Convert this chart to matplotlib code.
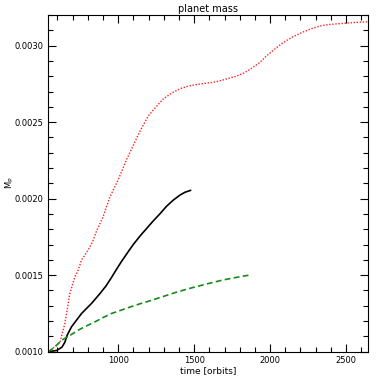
import matplotlib
matplotlib.use("Agg")
import matplotlib.pyplot as plt
from matplotlib.ticker import MultipleLocator, FormatStrFormatter

# red dotted series (time in orbits, planet mass)
red_t = [540, 580, 617, 649, 682, 715, 737, 759, 803, 836, 858, 901, 945, 1000, 1055,
         1100, 1143, 1197, 1253, 1300, 1360, 1406, 1460, 1516, 1570, 1623, 1669, 1720,
         1779, 1830, 1867, 1932, 1976, 2030, 2086, 2150, 2217, 2270, 2327, 2380, 2437,
         2540, 2645]
red_m = [0.001000, 0.001030, 0.001064, 0.001185, 0.001381, 0.001490, 0.001534, 0.001600,
         0.001665, 0.001730, 0.001790, 0.001883, 0.002010, 0.002124, 0.002255, 0.002350,
         0.002440, 0.002539, 0.002604, 0.002655, 0.002694, 0.002718, 0.002735, 0.002746,
         0.002753, 0.002760, 0.002770, 0.002784, 0.002801, 0.002822, 0.002845, 0.002889,
         0.002932, 0.002977, 0.003020, 0.003058, 0.003089, 0.003110, 0.003128, 0.003137,
         0.003142, 0.003150, 0.003156]

# black solid series
black_t = [540, 595, 630, 649, 665, 693, 759, 825, 880, 920, 956, 990, 1022, 1060, 1099,
           1143, 1187, 1231, 1274, 1318, 1362, 1406, 1440, 1476]
black_m = [0.001000, 0.001008, 0.001030, 0.001062, 0.001110, 0.001163, 0.001250, 0.001316,
           0.001380, 0.001430, 0.001485, 0.001540, 0.001590, 0.001645, 0.001700, 0.001755,
           0.001805, 0.001855, 0.001900, 0.001950, 0.001990, 0.002023, 0.002042, 0.002054]

# green dashed series
green_t = [540, 580, 628, 680, 737, 790, 847, 900, 957, 1010, 1066, 1140, 1220, 1300, 1380,
           1472, 1580, 1691, 1780, 1866]
green_m = [0.001000, 0.001028, 0.001075, 0.001105, 0.001141, 0.001168, 0.001195, 0.001223,
           0.001250, 0.001268, 0.001288, 0.001312, 0.001336, 0.001362, 0.001388, 0.001414,
           0.001442, 0.001469, 0.001486, 0.001501]

title = "planet mass"
xlabel = "time [orbits]"
ylabel = r"M$_\mathrm{P}$"

plt.rcParams['font.family'] = ['DejaVu Sans']
fig = plt.figure(figsize=(3.82, 3.82), dpi=100)
ax = fig.add_axes([0.1257, 0.0793, 0.837, 0.8814])

ax.plot(red_t, red_m, color='#ff2020', linestyle=(0, (1, 1.2)), linewidth=1.0)
ax.plot(black_t, black_m, color='black', linestyle='-', linewidth=1.2)
ax.plot(green_t, green_m, color='#178a17', linestyle=(0, (3.5, 2)), linewidth=1.2)

ax.set_xlim(538, 2643)
ax.set_ylim(0.0010, 0.0032)
ax.xaxis.set_major_locator(MultipleLocator(500))
ax.xaxis.set_minor_locator(MultipleLocator(100))
ax.yaxis.set_major_locator(MultipleLocator(0.0005))
ax.yaxis.set_minor_locator(MultipleLocator(0.0001))
ax.yaxis.set_major_formatter(FormatStrFormatter('%.4f'))
ax.tick_params(which='both', direction='in', top=True, right=True, labelsize=6, pad=3)
ax.tick_params(which='major', length=6, width=0.8)
ax.tick_params(which='minor', length=3.5, width=0.8)
for s in ax.spines.values():
    s.set_linewidth(0.8)

ax.set_title(title, fontsize=7, pad=2)
ax.set_xlabel(xlabel, fontsize=6.5, labelpad=1)
fig.text(10 / 382, 1 - 183 / 382, ylabel, fontsize=6, rotation=90,
         ha='center', va='center')

fig.savefig("out.png", dpi=100)
